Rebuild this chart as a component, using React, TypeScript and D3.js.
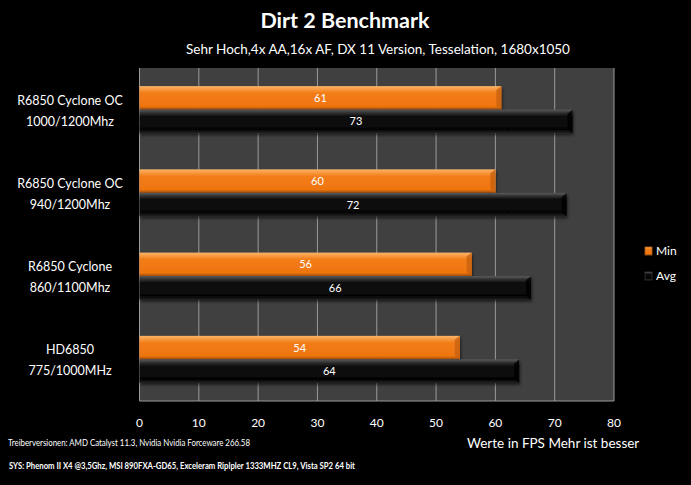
import * as d3 from 'd3';

const categories = ['HD6850', 'R6850 Cyclone', 'R6850 Cyclone OC 940', 'R6850 Cyclone OC 1000'];
const labelLines: Record<string, string[]> = {
  'R6850 Cyclone OC 1000': ['R6850 Cyclone OC', '1000/1200Mhz'],
  'R6850 Cyclone OC 940': ['R6850 Cyclone OC', '940/1200Mhz'],
  'R6850 Cyclone': ['R6850 Cyclone', '860/1100Mhz'],
  HD6850: ['HD6850', '775/1000MHz'],
};
const minValues = [54, 56, 60, 61];
const avgValues = [64, 66, 72, 73];
const series = ['Min', 'Avg'];
const ticks = [0, 10, 20, 30, 40, 50, 60, 70, 80];

const W = 691;
const H = 485;
const PLOT = { left: 139.5, right: 614, top: 68, bottom: 401 };
const FONT = 'Lato, "Open Sans", sans-serif';

export default function App() {
  const x = d3.scaleLinear().domain([0, 80]).range([PLOT.left, PLOT.right]);
  // top-to-bottom order as in the picture
  const order = [...categories].reverse();
  const y = d3.scaleBand().domain(order).range([PLOT.top, PLOT.bottom]).padding(0);
  const sub = d3.scaleBand().domain(series).range([0, y.bandwidth()]).paddingInner(0).paddingOuter(0.77);
  const bh = sub.bandwidth();

  const rows = categories.map((c, i) => ({ cat: c, Min: minValues[i], Avg: avgValues[i] }));

  return (
    <div style={{ position: 'fixed', left: 0, top: 0 }}>
      <svg width={W} height={H} style={{ display: 'block', background: '#000' }} fontFamily={FONT}>
        <defs>
          <linearGradient id="gMin" x1="0" y1="0" x2="0" y2="1">
            <stop offset="0" stopColor="#fbb46a" />
            <stop offset="0.14" stopColor="#f89a40" />
            <stop offset="0.3" stopColor="#f27c16" />
            <stop offset="0.86" stopColor="#ef7510" />
            <stop offset="1" stopColor="#9a4c0c" />
          </linearGradient>
          <linearGradient id="gAvg" x1="0" y1="0" x2="0" y2="1">
            <stop offset="0" stopColor="#5a5a5a" />
            <stop offset="0.14" stopColor="#303030" />
            <stop offset="0.3" stopColor="#0a0a0a" />
            <stop offset="0.86" stopColor="#060606" />
            <stop offset="1" stopColor="#222" />
          </linearGradient>
          <filter id="shadow" x="-5%" y="-20%" width="110%" height="160%">
            <feDropShadow dx="1" dy="2" stdDeviation="1.5" floodColor="#000" floodOpacity="0.6" />
          </filter>
        </defs>

        <text x={345} y={28} textAnchor="middle" fill="#fff" fontSize={21.5} fontWeight="bold">Dirt 2 Benchmark</text>
        <text x={378} y={54} textAnchor="middle" fill="#fff" fontSize={13.5}>
          Sehr Hoch,4x AA,16x AF, DX 11 Version, Tesselation, 1680x1050
        </text>

        <rect x={PLOT.left} y={PLOT.top} width={PLOT.right - PLOT.left} height={PLOT.bottom - PLOT.top} fill="#404040" />
        {ticks.map(t => (
          <line key={t} x1={x(t)} x2={x(t)} y1={PLOT.top} y2={PLOT.bottom} stroke="#9a9a9a" strokeWidth={1} />
        ))}
        <line x1={PLOT.left} x2={PLOT.right} y1={PLOT.bottom} y2={PLOT.bottom} stroke="#9a9a9a" />

        {rows.map(r => {
          const y0 = y(r.cat)!;
          return (
            <g key={r.cat}>
              {series.map(s => {
                const v = r[s as 'Min' | 'Avg'];
                const by = y0 + sub(s)!;
                const x1 = x(v);
                return (
                  <g key={s}>
                    <rect x={x(0)} y={by} width={x1 - x(0)} height={bh} fill={`url(#g${s})`} filter="url(#shadow)" />
                    <polygon
                      points={`${x1 - 5},${by + 4} ${x1},${by} ${x1},${by + bh} ${x1 - 5},${by + bh - 4}`}
                      fill={s === 'Min' ? '#c86210' : '#000'}
                      opacity={0.8}
                    />
                    <text x={(x(0) + x1) / 2} y={by + bh / 2 + 4} textAnchor="middle" fill="#fff" fontSize={11}>{v}</text>
                  </g>
                );
              })}
              {labelLines[r.cat].map((l, i) => (
                <text key={i} x={70} y={y0 + y.bandwidth() / 2 - 5 + i * 21} textAnchor="middle" fill="#fff" fontSize={12.5}>{l}</text>
              ))}
            </g>
          );
        })}

        {ticks.map(t => (
          <text key={t} x={x(t)} y={427} textAnchor="middle" fill="#fff" fontSize={12}>{t}</text>
        ))}

        {series.map((s, i) => (
          <g key={s}>
            <rect x={645} y={247 + i * 25} width={7} height={8} fill={`url(#g${s})`} stroke={s === 'Min' ? '#b05a10' : '#333'} strokeWidth={0.8} />
            <text x={656} y={255 + i * 25} fill="#fff" fontSize={12}>{s}</text>
          </g>
        ))}

        <text x={8} y={446} fill="#fff" fontSize={10} textLength={242} lengthAdjust="spacingAndGlyphs">
          Treiberversionen: AMD Catalyst 11.3, Nvidia Nvidia Forceware 266.58
        </text>
        <text x={467} y={448} fill="#fff" fontSize={13.5}>Werte in FPS Mehr ist besser</text>
        <text x={9} y={469} fill="#fff" fontSize={10} fontWeight="bold" textLength={346} lengthAdjust="spacingAndGlyphs">
          SYS: Phenom II X4 @3,5Ghz, MSI 890FXA-GD65, Exceleram Riplpler 1333MHZ CL9, Vista SP2 64 bit
        </text>
      </svg>
    </div>
  );
}
